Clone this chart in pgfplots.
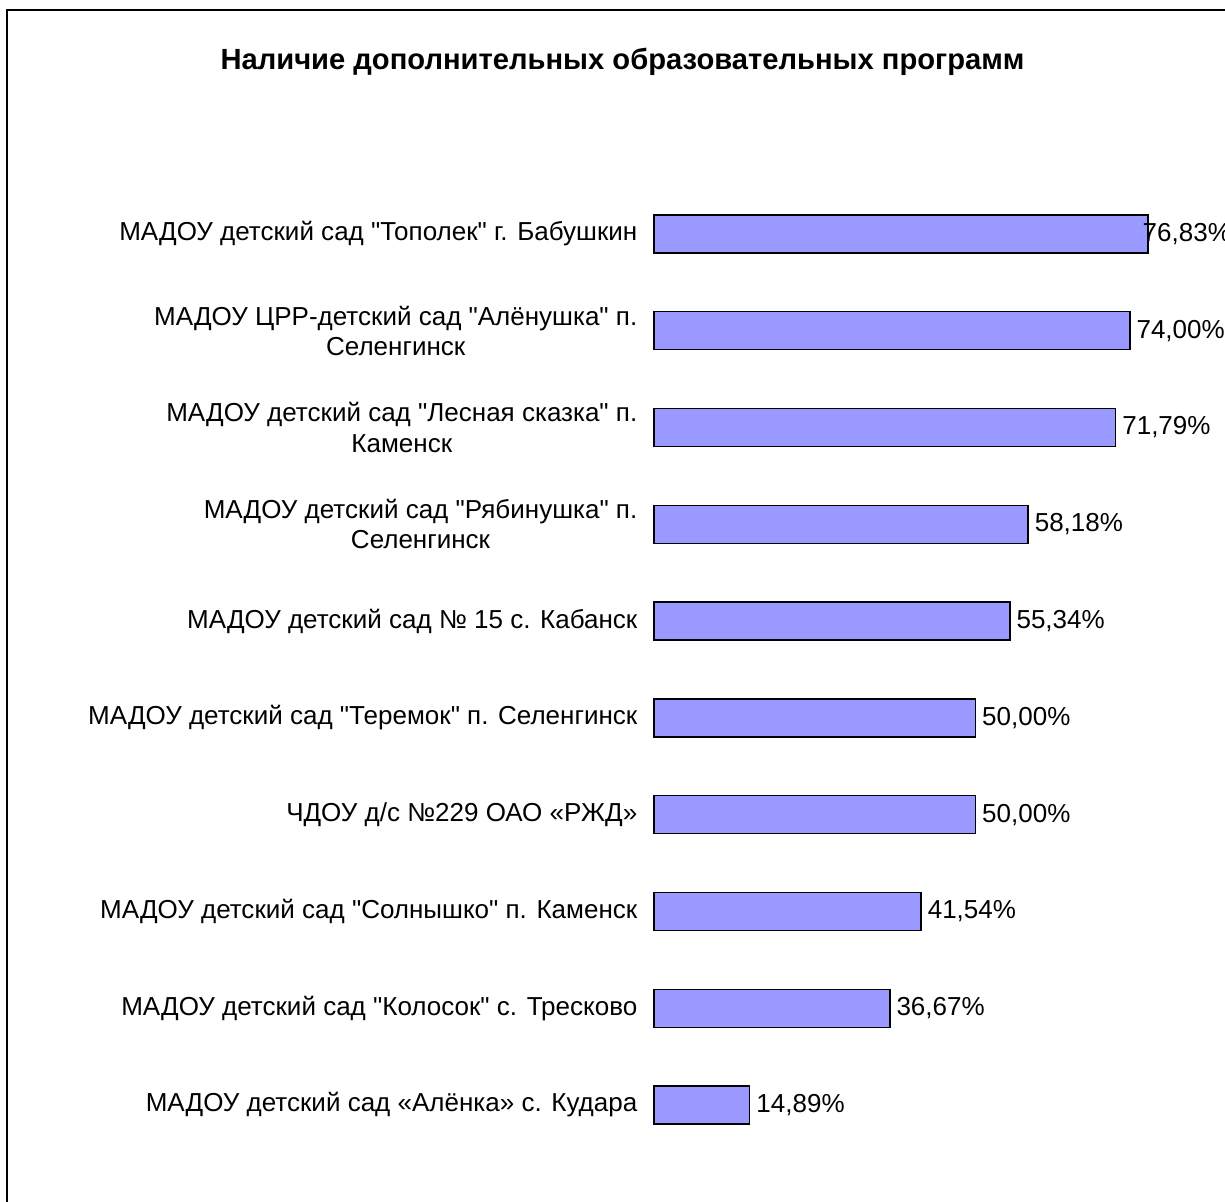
\documentclass[border=0pt]{standalone}
\usepackage{pgfplots}
\pgfplotsset{compat=1.18}
\usepackage{fontspec}
\setmainfont{Liberation Sans}
\definecolor{barfill}{HTML}{9999FF}
\newcommand{\q}{\textquotedbl}

\begin{document}
\begin{tikzpicture}
% page is 12.25cm x 12.02cm, 1px = 0.1mm
\clip (0,0) rectangle (12.25,-12.02);
\draw[line width=0.4pt] (0.07,-0.10) rectangle (13,-13);
\node[font=\fontsize{8.3}{10}\selectfont\bfseries] at (6.225,-0.62) {Наличие дополнительных образовательных программ};
\begin{axis}[
    at={(6.54cm,-1.856cm)}, anchor=north west,
    scale only axis,
    width=6.43cm, height=9.678cm,
    xbar, bar width=0.38cm, bar shift=0pt,
    xmin=0, xmax=100,
    ymin=-0.5, ymax=9.5,
    hide x axis,
    axis line style={draw=none},
    ytick={0,...,9},
    ytick style={draw=none},
    major tick length=0pt,
    yticklabels={
        {МАДОУ детский сад «Алёнка» с. Кудара},
        {МАДОУ детский сад \q Колосок\q\ с. Тресково},
        {МАДОУ детский сад \q Солнышко\q\ п. Каменск},
        {ЧДОУ д/с №229 ОАО «РЖД»},
        {МАДОУ детский сад \q Теремок\q\ п. Селенгинск},
        {МАДОУ детский сад № 15 с. Кабанск},
        {МАДОУ детский сад \q Рябинушка\q\ п.\\Селенгинск},
        {МАДОУ детский сад \q Лесная сказка\q\ п.\\Каменск},
        {МАДОУ ЦРР-детский сад \q Алёнушка\q\ п.\\Селенгинск},
        {МАДОУ детский сад \q Тополек\q\ г. Бабушкин}},
    yticklabel style={align=center, inner sep=0pt, xshift=-0.16cm,
        font=\fontsize{7.4}{8.6}\selectfont},
    /pgf/number format/assume math mode=true,
    nodes near coords={\pgfmathprintnumber[fixed,fixed zerofill,precision=2,use comma]{\pgfplotspointmeta}\%},
    nodes near coords style={font=\fontsize{7.4}{8.6}\selectfont, anchor=west, inner sep=0pt, xshift=0.06cm},
    clip=false,
]
\addplot[fill=barfill, draw=black, line width=0.4pt] coordinates {
    (14.89,0) (36.67,1) (41.54,2) (50.00,3) (50.00,4)
    (55.34,5) (58.18,6) (71.79,7) (74.00,8)
};
% last label pushed back onto the bar end so it stays on the page
\addplot[fill=barfill, draw=black, line width=0.4pt,
    nodes near coords style={xshift=-0.12cm}] coordinates {
    (76.83,9)
};
\end{axis}
\end{tikzpicture}
\end{document}
